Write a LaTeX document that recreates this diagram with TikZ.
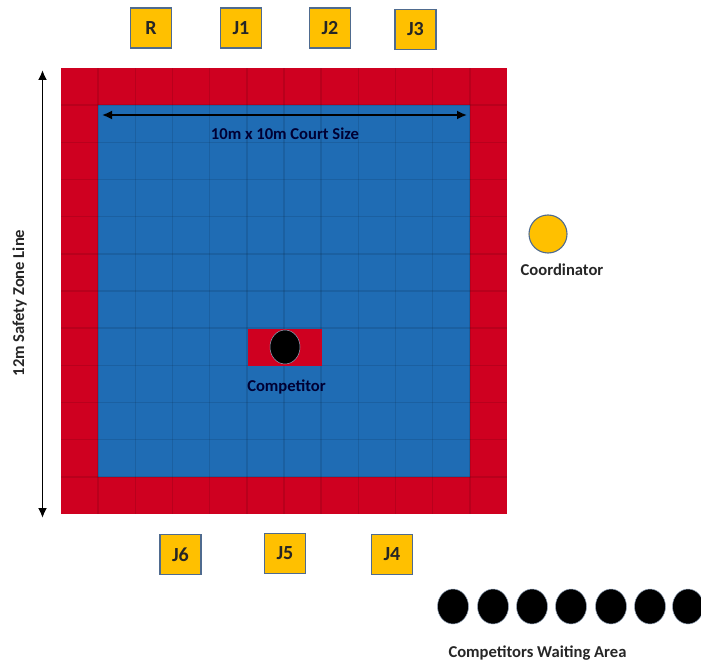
\documentclass[tikz,border=0pt]{standalone}
\usepackage{fontspec}
\setmainfont{Carlito}
\usetikzlibrary{arrows.meta,shapes.geometric}
\definecolor{rd}{HTML}{CF0020}
\definecolor{bl}{HTML}{1F6CB4}
\definecolor{gd}{HTML}{FFC000}
\definecolor{edgeb}{HTML}{4F6B8F}
\tikzset{
 x=1pt,y=-1pt,
 judge/.style={draw=edgeb,line width=1.1pt,fill=gd,minimum width=41pt,minimum height=40pt,inner sep=0pt,font=\fontsize{20}{20}\selectfont\bfseries,text=black!85},
 token/.style={ellipse,draw=edgeb!60,line width=.5pt,fill=black,minimum width=31pt,minimum height=35pt,inner sep=0pt},
 lab/.style={font=\fontsize{16.6}{16.6}\selectfont\bfseries,text=black!85,inner sep=0pt},
 dim/.style={line width=1.8pt,{Latex[length=10pt,width=9pt]}-{Latex[length=10pt,width=9pt]}},
}
\begin{document}
\begin{tikzpicture}
\useasboundingbox (0,0) rectangle (701,668);
\fill[rd] (61,68) rectangle (507,514);
\fill[bl] (98,105) rectangle (470,477);
\foreach \i in {1,...,11}{
 \draw[black,opacity=.10,line width=1.4pt] ({61+\i*37.17},68) -- ({61+\i*37.17},514);
 \draw[black,opacity=.10,line width=1.4pt] (61,{68+\i*37.17}) -- (507,{68+\i*37.17});
}
\fill[rd] (247.5,328.5) rectangle (322,366);
\node[token,minimum width=30pt,minimum height=34pt] (comp) at (285,347) {};
\node[lab,text=black!80!blue] (complab) at (286.5,387) {Competitor};
\coordinate (hl) at (102,115); \coordinate (hr) at (467,115);
\draw[dim] (hl) -- (hr);
\node[lab,text=black!80!blue] (court) at (285,134) {10m x 10m Court Size};
\coordinate (vt) at (42.5,70); \coordinate (vb) at (42.5,518);
\draw[dim] (vt) -- (vb);
\node[lab,rotate=90] (zone) at (19.5,303) {12m Safety Zone Line};
\node[judge] (R) at (151,28) {R};
\node[judge] (J1) at (241,28) {J1};
\node[judge] (J2) at (330,28) {J2};
\node[judge] (J3) at (415.5,29.5) {J3};
\node[judge] (J6) at (180.5,554.5) {J6};
\node[judge] (J5) at (285,553.5) {J5};
\node[judge] (J4) at (392,554.5) {J4};
\node[circle,draw=edgeb,line width=1.1pt,fill=gd,minimum size=38pt,inner sep=0pt] (coord) at (548,234) {};
\node[lab] (coordlab) at (562,269.5) {Coordinator};
\foreach \n/\x in {a/453,b/493,c/532,d/571,e/611,f/650,g/688}{
 \node[token] (w\n) at (\x,606.5) {};
}
\node[lab] (wait) at (537.5,653) {Competitors Waiting Area};
\end{tikzpicture}
\end{document}
